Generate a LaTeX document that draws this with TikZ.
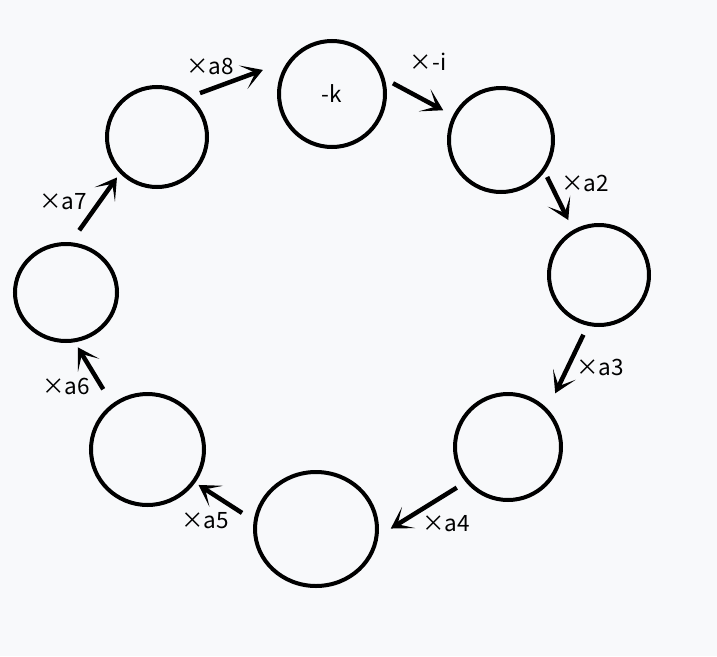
\documentclass[tikz,border=0pt]{standalone}
\usepackage{fontspec}
\setmainfont{Noto Sans CJK KR}
\usetikzlibrary{shapes.geometric,arrows.meta}
\definecolor{bgcol}{RGB}{248,249,251}

\begin{document}
\begin{tikzpicture}[x=1pt, y=-1pt,
  ring/.style={draw, ellipse, line width=4pt, inner sep=0pt, outer sep=0pt},
  arr/.style={line width=4.5pt, -{Stealth[length=21pt, width=25pt, inset=13pt]}},
  lbl/.style={inner sep=0pt}]

  \fontsize{22.5}{27}\selectfont

  \fill[bgcol] (0,0) rectangle (717,656);

  % the eight rings
  \node[ring, minimum width=106pt, minimum height=106pt] (c1) at (332,94) {-k};
  \node[ring, minimum width=104pt, minimum height=104pt] (c2) at (501,140) {};
  \node[ring, minimum width=100pt, minimum height=100pt] (c3) at (599,275) {};
  \node[ring, minimum width=106pt, minimum height=106pt] (c4) at (508,447) {};
  \node[ring, minimum width=122pt, minimum height=114pt] (c5) at (316,529) {};
  \node[ring, minimum width=113pt, minimum height=111pt] (c6) at (147.5,449.5) {};
  \node[ring, minimum width=102pt, minimum height=97pt] (c7) at (66,292.5) {};
  \node[ring, minimum width=100pt, minimum height=100pt] (c8) at (157,137) {};

  % arrows between rings
  \draw[arr, shorten <=13pt, shorten >=31pt] (c8.52) -- (c1.139);
  \draw[arr, shorten <=12pt, shorten >=13pt] (c1.18.5) -- (c2.153);
  \draw[arr, shorten <=8pt, shorten >=13pt] (c2.-35) -- (c3.120);
  \draw[arr, shorten <=12pt, shorten >=19.5pt] (c3.258) -- (c4.43);
  \draw[arr, shorten <=12.5pt, shorten >=17pt] (c4.220) -- (c5.-8.6);
  \draw[arr, shorten <=16pt, shorten >=6pt] (c5.173) -- (c6.-35.5);
  \draw[arr, shorten <=19pt, shorten >=8pt] (c6.128) -- (c7.-81);
  \draw[arr, shorten <=17pt, shorten >=7pt] (c7.86) -- (c8.224);

  % factors
  \node[lbl] (l8) at (210,66) {×a8};
  \node[lbl] (l1) at (428,62) {×-i};
  \node[lbl] (l2) at (585,183) {×a2};
  \node[lbl] (l3) at (600,367) {×a3};
  \node[lbl] (l4) at (446,524) {×a4};
  \node[lbl] (l5) at (205,521) {×a5};
  \node[lbl] (l6) at (66,386) {×a6};
  \node[lbl] (l7) at (63,202) {×a7};

\end{tikzpicture}
\end{document}
